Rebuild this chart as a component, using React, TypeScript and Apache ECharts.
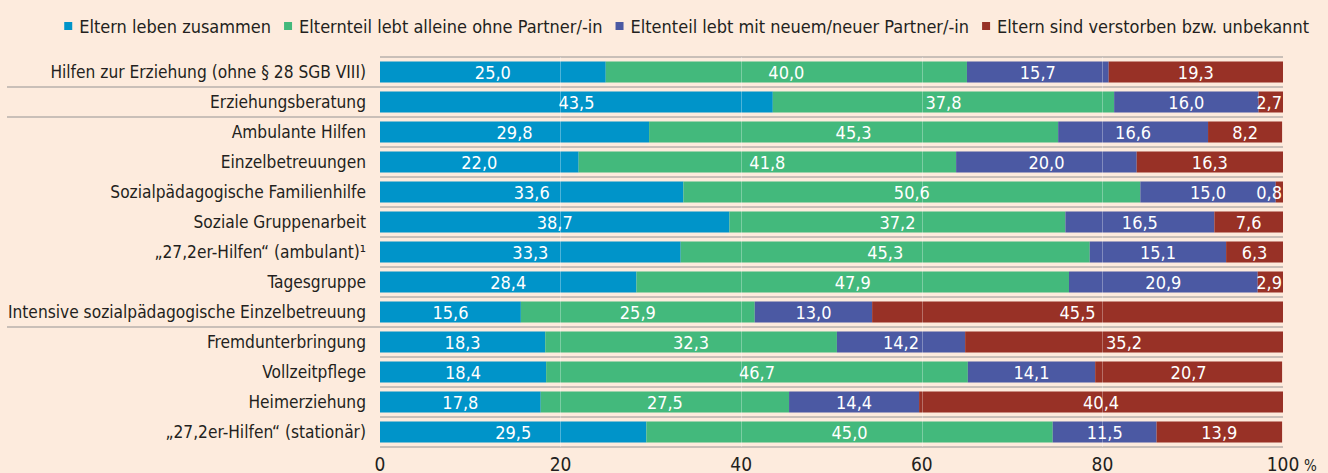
import React, { useEffect, useRef } from "react";
import * as echarts from "echarts";

const categories = [
  "Hilfen zur Erziehung (ohne § 28 SGB VIII)",
  "Erziehungsberatung",
  "Ambulante Hilfen",
  "Einzelbetreuungen",
  "Sozialpädagogische Familienhilfe",
  "Soziale Gruppenarbeit",
  "„27,2er-Hilfen“ (ambulant)¹",
  "Tagesgruppe",
  "Intensive sozialpädagogische Einzelbetreuung",
  "Fremdunterbringung",
  "Vollzeitpflege",
  "Heimerziehung",
  "„27,2er-Hilfen“ (stationär)",
];

const seriesNames = [
  "Eltern leben zusammen",
  "Elternteil lebt alleine ohne Partner/-in",
  "Eltenteil lebt mit neuem/neuer Partner/-in",
  "Eltern sind verstorben bzw. unbekannt",
];

const together = [25.0, 43.5, 29.8, 22.0, 33.6, 38.7, 33.3, 28.4, 15.6, 18.3, 18.4, 17.8, 29.5];
const alone = [40.0, 37.8, 45.3, 41.8, 50.6, 37.2, 45.3, 47.9, 25.9, 32.3, 46.7, 27.5, 45.0];
const newPartner = [15.7, 16.0, 16.6, 20.0, 15.0, 16.5, 15.1, 20.9, 13.0, 14.2, 14.1, 14.4, 11.5];
const deceased = [19.3, 2.7, 8.2, 16.3, 0.8, 7.6, 6.3, 2.9, 45.5, 35.2, 20.7, 40.4, 13.9];

const xTicks = [0, 20, 40, 60, 80, 100];
const groupBreaks = [1, 2, 9]; // separator lines after these rows extend into the label area

const colors = ["#0094c9", "#43b97c", "#4b59a3", "#983126"];
const FONT = "'Liberation Sans Narrow', 'DejaVu Sans Condensed', 'Arial Narrow', sans-serif";

export default function App() {
  const ref = useRef<HTMLDivElement>(null);

  useEffect(() => {
    if (!ref.current) return;
    const chart = echarts.init(ref.current, undefined, { renderer: "svg" });

    const W = 1328;
    const gridLeft = 380;
    const gridRight = 45;
    const gridTop = 57;
    const gridHeight = 390;
    const band = gridHeight / categories.length;

    const fmt = (v: number) => v.toFixed(1).replace(".", ",");
    const all = [together, alone, newPartner, deceased];

    const series = all.map((arr, si) => ({
      name: seriesNames[si],
      type: "bar",
      stack: "total",
      barWidth: 21,
      itemStyle: { color: colors[si] },
      label: {
        show: true,
        position: "inside",
        color: "#ffffff",
        fontSize: 18,
        fontFamily: FONT,
        formatter: (p: any) => fmt(p.value),
      },
      data: arr.map((v) =>
        si === 3 && v < 4
          ? { value: v, label: { position: "insideRight", distance: 1 } }
          : v
      ),
      ...(si === 3
        ? {
            markLine: {
              silent: true,
              symbol: "none",
              label: { show: false },
              lineStyle: { color: "rgba(255,255,255,0.3)", width: 1, type: "solid" },
              data: xTicks.filter((t) => t > 0 && t < 100).map((t) => ({ xAxis: t })),
              z: 10,
            },
          }
        : {}),
    }));

    const graphics: any[] = groupBreaks.map((k) => ({
      type: "line",
      shape: { x1: 7, y1: gridTop + band * k, x2: gridLeft, y2: gridTop + band * k },
      style: { stroke: "#b7b0ab", lineWidth: 1.5 },
      silent: true,
    }));
    graphics.push({
      type: "text",
      left: W - gridRight + 21,
      top: 458,
      style: { text: "%", fontSize: 15, fontFamily: FONT, fill: "#231f20" },
    });

    chart.setOption({
      animation: false,
      backgroundColor: "#fdebdd",
      textStyle: { fontFamily: FONT },
      legend: {
        top: 12,
        right: 14,
        icon: "rect",
        itemWidth: 8,
        itemHeight: 8,
        itemGap: 13,
        textStyle: { fontSize: 18, color: "#231f20", fontFamily: FONT, padding: [0, 0, 0, 2] },
        data: seriesNames,
      },
      grid: {
        left: gridLeft,
        right: gridRight,
        top: gridTop,
        height: gridHeight,
        containLabel: false,
        outerBoundsMode: "none",
      },
      xAxis: {
        type: "value",
        min: 0,
        max: 100,
        interval: 20,
        axisLine: { show: false },
        axisTick: { show: false },
        splitLine: { show: false },
        axisLabel: { fontSize: 19, color: "#231f20", margin: 7, fontFamily: FONT },
      },
      yAxis: {
        type: "category",
        inverse: true,
        data: categories,
        axisLine: { show: false },
        axisTick: { show: false },
        splitLine: { show: true, lineStyle: { color: "#b7b0ab", width: 1.5 } },
        axisLabel: { fontSize: 17.2, color: "#231f20", margin: 14, fontFamily: FONT },
      },
      graphic: graphics,
      series,
    });

    return () => chart.dispose();
  }, []);

  return (
    <div
      ref={ref}
      style={{ position: "absolute", left: 0, top: 0, width: 1328, height: 473 }}
    />
  );
}
